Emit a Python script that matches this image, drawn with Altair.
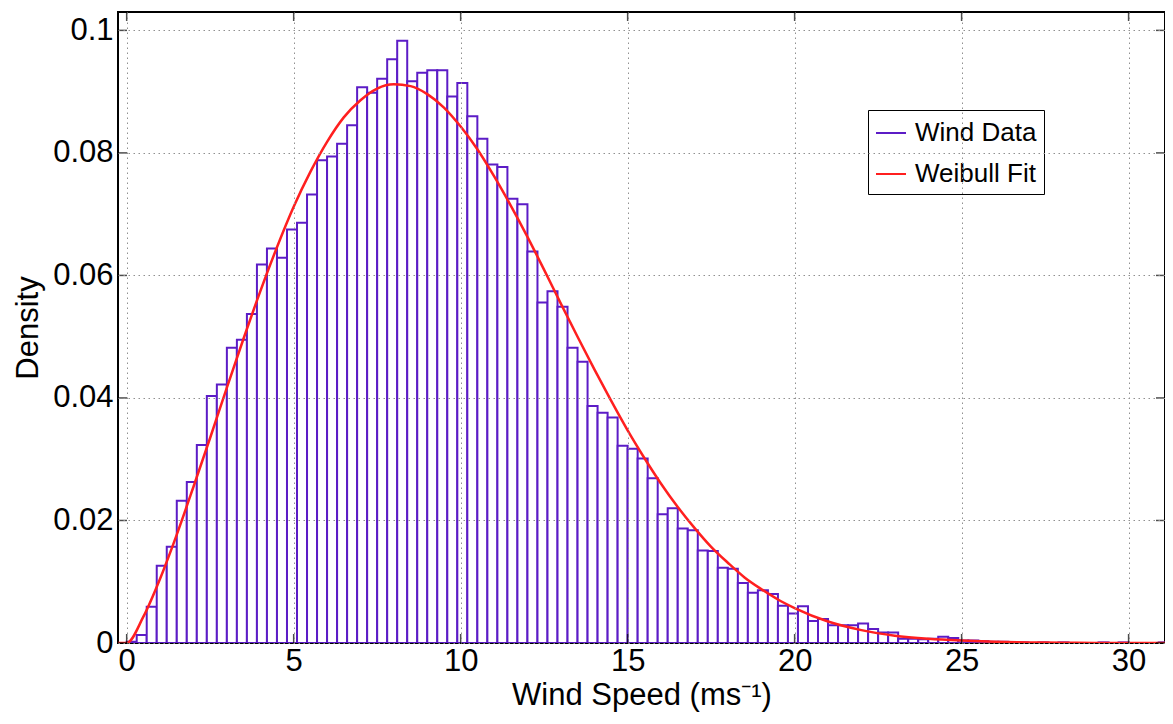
import altair as alt
import pandas as pd

# ---------------- data ----------------
BIN_WIDTH = 0.3
DENSITY = [
    0.0002, 0.0013, 0.0059, 0.0126, 0.0157, 0.0232, 0.0263, 0.0323, 0.0403, 0.0422,
    0.0482, 0.0495, 0.0537, 0.0618, 0.0644, 0.0629, 0.0675, 0.0686, 0.0732, 0.0788,
    0.0794, 0.0815, 0.0845, 0.0907, 0.0898, 0.0921, 0.0953, 0.0983, 0.0917, 0.0931,
    0.0935, 0.0935, 0.0892, 0.0914, 0.0860, 0.0823, 0.0781, 0.0777, 0.0725, 0.0716,
    0.0639, 0.0556, 0.0574, 0.0549, 0.0482, 0.0459, 0.0387, 0.0376, 0.0368, 0.0322,
    0.0317, 0.0301, 0.0269, 0.0210, 0.0220, 0.0187, 0.0184, 0.0151, 0.0150, 0.0123,
    0.0121, 0.0098, 0.0082, 0.0086, 0.0080, 0.0061, 0.0048, 0.0060, 0.0036, 0.0039,
    0.0029, 0.0029, 0.0029, 0.0032, 0.0023, 0.0017, 0.0017, 0.0007, 0.0007, 0.0006,
    0.0007, 0.0010, 0.0008, 0.0004, 0.0004, 0.0003, 0.0002, 0.0002, 0.0001, 0.0001,
    0.0, 0.0001, 0.0, 0.0001, 0.0, 0.0, 0.0, 0.0001, 0.0, 0.0001,
    0.0, 0.0, 0.0, 0.0001, 0.0,
]
FIT_X = [-0.26, 0, 0.5, 1, 1.5, 2, 2.5, 3, 3.5, 4, 4.5, 5, 5.5, 6, 6.5, 7, 7.5, 8, 8.5,
         9, 9.5, 10, 10.5, 11, 11.5, 12, 12.5, 13, 13.5, 14, 14.5, 15, 15.5, 16, 16.5,
         17, 17.5, 18, 18.5, 19, 19.5, 20, 21, 22, 23, 24, 25, 26, 27, 28, 29, 30, 31, 31.5]
FIT_Y = [0, 0, 0.0043, 0.0105, 0.0177, 0.0255, 0.0335, 0.0417, 0.0497, 0.0574, 0.0646,
         0.0712, 0.0769, 0.0818, 0.0858, 0.0886, 0.0905, 0.0912, 0.0909, 0.0896, 0.0874,
         0.0843, 0.0806, 0.0762, 0.0714, 0.0663, 0.0609, 0.0554, 0.0500, 0.0447, 0.0396,
         0.0347, 0.0302, 0.0260, 0.0222, 0.0188, 0.0157, 0.0131, 0.0107, 0.0088, 0.0071,
         0.0057, 0.0035, 0.0021, 0.0012, 0.0007, 0.0004, 0.0002, 0.0001, 0.00004,
         0.00002, 0.00001, 0, 0]
X_TICKS = [0, 5, 10, 15, 20, 25, 30]
Y_TICKS = [0, 0.02, 0.04, 0.06, 0.08, 0.1]
SERIES = ["Wind Data", "Weibull Fit"]
COLORS = ["#5c1cc6", "#ff1f1f"]

# ---------------- layout ----------------
W, H = 1047, 631
XDOM = [-0.26, 31.09]
YDOM = [0, 0.103]
FONT = "Liberation Sans"

bars = pd.DataFrame({
    "start": [i * BIN_WIDTH for i in range(len(DENSITY))],
    "end": [(i + 1) * BIN_WIDTH for i in range(len(DENSITY))],
    "density": DENSITY,
})
bars["base"] = 0.0
bars["series"] = SERIES[0]
bars = bars[bars["density"] > 0]

fit = pd.DataFrame({"x": FIT_X, "y": FIT_Y, "series": SERIES[1]})
xt = pd.DataFrame({"t": X_TICKS})
yt = pd.DataFrame({"t": Y_TICKS})

xs = alt.Scale(domain=XDOM, nice=False, zero=False)
ys = alt.Scale(domain=YDOM, nice=False, zero=False)
cs = alt.Scale(domain=SERIES, range=COLORS)

legend = alt.Legend(
    title=None, orient="none", legendX=750, legendY=98,
    symbolType="stroke", symbolSize=900, symbolStrokeWidth=2,
    labelFontSize=26, labelFont=FONT, labelColor="black", labelLimit=400,
    strokeColor="black", fillColor="white",
    padding=7, rowPadding=12, labelOffset=8,
)

x_axis = alt.Axis(
    values=X_TICKS, title="Wind Speed (ms⁻¹)", grid=True, ticks=False, domain=False,
    labelFontSize=31, labelFont=FONT, labelColor="black", labelPadding=3,
    titleFontSize=31, titleFont=FONT, titleFontWeight="normal", titleColor="black",
    titlePadding=4, gridDash=[1.5, 3.5], gridColor="#909090", gridWidth=1, zindex=1,
)
y_axis = alt.Axis(
    values=Y_TICKS, title="Density", grid=True, ticks=False, domain=False,
    labelExpr="format(datum.value, '.2~f')",
    labelFontSize=31, labelFont=FONT, labelColor="black", labelPadding=5,
    titleFontSize=31, titleFont=FONT, titleFontWeight="normal", titleColor="black",
    titlePadding=8, gridDash=[1.5, 3.5], gridColor="#909090", gridWidth=1, zindex=1,
)

bar_layer = alt.Chart(bars).mark_rect(fill="white", strokeWidth=2, clip=True).encode(
    x=alt.X("start:Q", scale=xs, axis=x_axis),
    x2="end:Q",
    y=alt.Y("density:Q", scale=ys, axis=y_axis),
    y2="base:Q",
    stroke=alt.Stroke("series:N", scale=cs, legend=legend),
)

line_layer = alt.Chart(fit).mark_line(strokeWidth=2.5, clip=True, interpolate="monotone").encode(
    x=alt.X("x:Q", scale=xs),
    y=alt.Y("y:Q", scale=ys),
    stroke=alt.Stroke("series:N", scale=cs, legend=legend),
)

tick_x_bottom = alt.Chart(xt).mark_tick(orient="vertical", color="black", thickness=1.5, size=9).encode(
    x=alt.X("t:Q", scale=xs), y=alt.value(H - 4.5))
tick_x_top = alt.Chart(xt).mark_tick(orient="vertical", color="black", thickness=1.5, size=9).encode(
    x=alt.X("t:Q", scale=xs), y=alt.value(4.5))
tick_y_left = alt.Chart(yt).mark_tick(orient="horizontal", color="black", thickness=1.5, size=9).encode(
    y=alt.Y("t:Q", scale=ys), x=alt.value(4.5))
tick_y_right = alt.Chart(yt).mark_tick(orient="horizontal", color="black", thickness=1.5, size=9).encode(
    y=alt.Y("t:Q", scale=ys), x=alt.value(W - 4.5))

chart = alt.layer(
    bar_layer, line_layer, tick_x_bottom, tick_x_top, tick_y_left, tick_y_right
).properties(
    width=W, height=H,
    padding={"left": 110, "top": 4, "right": 0, "bottom": 72},
    autosize=alt.AutoSizeParams(type="none"),
    background="white",
).configure_view(stroke="black", strokeWidth=2)

chart.save("out.html", embed_options={"renderer": "svg", "actions": False})
